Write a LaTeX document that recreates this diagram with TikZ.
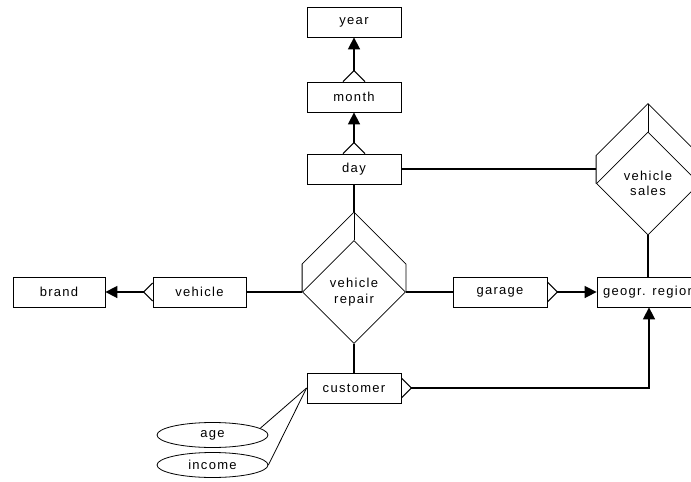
\documentclass[tikz,border=0pt]{standalone}
\usepackage{fontspec}
\setmainfont{Liberation Sans}[LetterSpace=10]
\usetikzlibrary{arrows.meta,positioning,shapes.geometric,calc}

\begin{document}
\begin{tikzpicture}[
  x=1pt,y=-1pt,
  font=\fontsize{13}{15.5}\selectfont,
  box/.style={draw,line width=0.8pt,minimum width=94pt,minimum height=30pt,inner sep=1pt,align=center},
  rel/.style={draw,diamond,line width=0.8pt,minimum width=103pt,minimum height=103pt,inner sep=0pt,align=center},
  attr/.style={draw,ellipse,line width=0.8pt,minimum width=111pt,minimum height=25pt,inner sep=0pt},
  arr/.style={-{Triangle[length=12pt,width=12pt]},line width=1.6pt},
  lnk/.style={line width=1.6pt},
  fork/.style={line width=1.1pt},
  thinln/.style={line width=0.8pt}
]
\useasboundingbox (0,0) rectangle (691,482);
\clip (0,0) rectangle (691,482);

% ---- time hierarchy (top) ----
\node[box] (year)  at (354,22)  {year};
\node[box] (month) at (354,97)  {month};
\node[box] (day)   at (354,169) {day};

% ---- relationships ----
\node[rel] (rep)   at (354,292)   {vehicle\\repair};
\node[rel] (sales) at (648,183.5) {vehicle\\sales};

% ---- entities in the middle row ----
\node[box,minimum width=92pt] (brand) at (59,292)  {brand};
\node[box,minimum width=93pt] (veh)   at (199.5,292) {vehicle};
\node[box] (gar) at (500,292) {garage};
\node[box,minimum width=104pt,inner sep=0pt] (geo) at (649,292) {geogr. region};

% ---- customer and its attributes ----
\node[box] (cust) at (354,388) {customer};
\node[attr] (age) at (212.5,435) {age};
\node[attr] (inc) at (212.5,465) {income};

% back faces of the two diamonds
\foreach \r in {rep,sales} {
  \coordinate (\r BL) at ($(\r.west)+(0,-28)$);
  \coordinate (\r BT) at ($(\r.north)+(0,-28)$);
  \coordinate (\r BR) at ($(\r.east)+(0,-28)$);
  \draw[thinln] (\r.west) -- (\r BL) -- (\r BT) -- (\r BR) -- (\r.east);
  \draw[thinln] (\r BT) -- (\r.north);
}

% ---- many-to-one links (crow's foot -> arrow) ----
\coordinate (fMon) at ($(month.north)+(0,-11)$);
\draw[fork] ($(month.north)+(-11,0)$) -- (fMon) -- ($(month.north)+(11,0)$);
\draw[arr] (fMon) -- (year);

\coordinate (fDay) at ($(day.north)+(0,-11)$);
\draw[fork] ($(day.north)+(-11,0)$) -- (fDay) -- ($(day.north)+(11,0)$);
\draw[arr] (fDay) -- (month);

\coordinate (fVeh) at ($(veh.west)+(-9,0)$);
\draw[fork] ($(veh.west)+(0,-9)$) -- (fVeh) -- ($(veh.west)+(0,9)$);
\draw[arr] (fVeh) -- (brand);

\coordinate (fGar) at ($(gar.east)+(10,0)$);
\draw[fork] ($(gar.east)+(0,-10)$) -- (fGar) -- ($(gar.east)+(0,10)$);
\draw[arr] (fGar) -- (geo);

\coordinate (fCus) at ($(cust.east)+(10,0)$);
\draw[fork] ($(cust.east)+(0,-10)$) -- (fCus) -- ($(cust.east)+(0,10)$);
\draw[arr] (fCus) -| (geo.south);

% ---- plain links ----
\draw[lnk] (day.south) -- (repBT);
\draw[lnk] (veh.east) -- (rep.west);
\draw[lnk] (rep.east) -- (gar.west);
\draw[lnk] (rep.south) -- (cust.north);
\draw[lnk] (day.east) -- (day.east -| sales.west);
\draw[lnk] (sales.south) -- (sales.south |- geo.north);
\draw[thinln] (cust.west) -- (age.8);
\draw[thinln] (cust.west) -- (inc.east);
\end{tikzpicture}
\end{document}
